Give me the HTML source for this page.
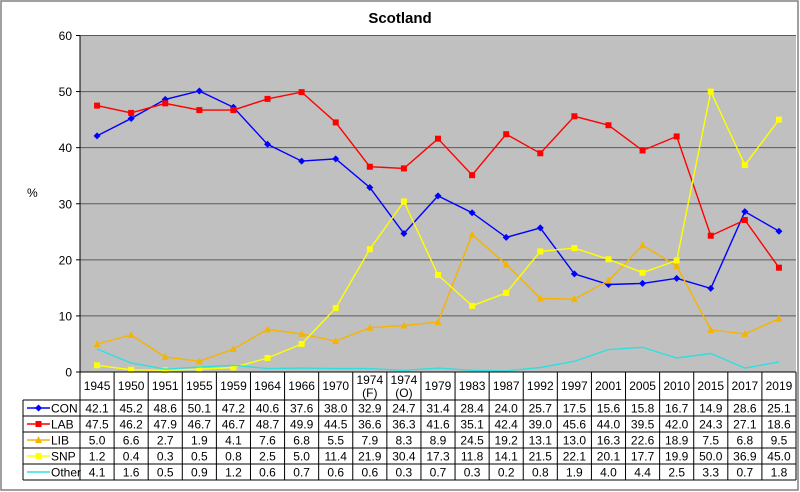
<!DOCTYPE html>
<html><head><meta charset="utf-8"><style>
html,body{margin:0;padding:0;background:#fff;}
svg{display:block;font-family:"Liberation Sans",Arial,sans-serif;}
</style></head><body>
<svg id="c" width="800" height="492" xmlns="http://www.w3.org/2000/svg"></svg>
<script>
const cats=["1945","1950","1951","1955","1959","1964","1966","1970","1974|(F)","1974|(O)","1979","1983","1987","1992","1997","2001","2005","2010","2015","2017","2019"];
const S=[
["CON","#0000ff","d",[42.1,45.2,48.6,50.1,47.2,40.6,37.6,38.0,32.9,24.7,31.4,28.4,24.0,25.7,17.5,15.6,15.8,16.7,14.9,28.6,25.1]],
["LAB","#ff0000","s",[47.5,46.2,47.9,46.7,46.7,48.7,49.9,44.5,36.6,36.3,41.6,35.1,42.4,39.0,45.6,44.0,39.5,42.0,24.3,27.1,18.6]],
["LIB","#f5b400","t",[5.0,6.6,2.7,1.9,4.1,7.6,6.8,5.5,7.9,8.3,8.9,24.5,19.2,13.1,13.0,16.3,22.6,18.9,7.5,6.8,9.5]],
["SNP","#ffff00","s",[1.2,0.4,0.3,0.5,0.8,2.5,5.0,11.4,21.9,30.4,17.3,11.8,14.1,21.5,22.1,20.1,17.7,19.9,50.0,36.9,45.0]],
["Other","#33dddd","n",[4.1,1.6,0.5,0.9,1.2,0.6,0.7,0.6,0.6,0.3,0.7,0.3,0.2,0.8,1.9,4.0,4.4,2.5,3.3,0.7,1.8]]];
const L=80,R=796,T=35.5,B=372,W=(R-L)/21;
const X=i=>L+W*(i+0.5),Y=v=>B-v*(B-T)/60;
let h='';
h+='<rect x="1" y="1" width="797" height="489" fill="#fff" stroke="#808080" stroke-width="1.5"/>';
h+=`<text x="400" y="23" font-size="15" font-weight="bold" text-anchor="middle">Scotland</text>`;
h+=`<rect x="${L}" y="${T}" width="${R-L}" height="${B-T}" fill="#c0c0c0"/>`;
for(let v=0;v<=60;v+=10){const y=Y(v);
 if(v>0)h+=`<line x1="${L}" x2="${R}" y1="${y}" y2="${y}" stroke="#5a5a5a" stroke-width="1"/>`;
 h+=`<line x1="${L-4}" x2="${L}" y1="${y}" y2="${y}" stroke="#000"/>`;
 h+=`<text x="${L-8}" y="${y+4.5}" font-size="12" text-anchor="end">${v}</text>`;}
h+=`<line x1="${L}" x2="${L}" y1="${T}" y2="${B}" stroke="#000"/>`;
h+=`<text x="27" y="197" font-size="12">%</text>`;
for(const [n,c,m,d] of S){
 h+=`<polyline fill="none" stroke="${c}" stroke-width="1.4" points="${d.map((v,i)=>X(i).toFixed(1)+','+Y(v).toFixed(1)).join(' ')}"/>`;
 d.forEach((v,i)=>h+=mk(m,X(i),Y(v),c));}
function mk(m,x,y,c){
 if(m=='d')return `<polygon points="${x},${y-3.5} ${x+3.5},${y} ${x},${y+3.5} ${x-3.5},${y}" fill="${c}"/>`;
 if(m=='s')return `<rect x="${x-3}" y="${y-3}" width="6" height="6" fill="${c}"/>`;
 if(m=='t')return `<polygon points="${x},${y-4} ${x+3.5},${y+3} ${x-3.5},${y+3}" fill="${c}"/>`;
 return '';}
// table
const rows=[400,416,432,448,464,480];
h+=`<g stroke="#000" stroke-width="1" fill="none">`;
h+=`<line x1="${L}" x2="${R}" y1="${B}" y2="${B}"/>`;
rows.forEach(y=>h+=`<line x1="${y==400?23:23}" x2="${R}" y1="${y}" y2="${y}"/>`);
h+=`<line x1="23" x2="23" y1="400" y2="480"/>`;
for(let i=0;i<=21;i++)h+=`<line x1="${L+W*i}" x2="${L+W*i}" y1="${B}" y2="480"/>`;
h+=`</g>`;
cats.forEach((c,i)=>{const p=c.split('|');
 if(p.length==1)h+=`<text x="${X(i)}" y="390" font-size="12" text-anchor="middle">${c}</text>`;
 else h+=`<text x="${X(i)}" y="384" font-size="12" text-anchor="middle">${p[0]}</text><text x="${X(i)}" y="397" font-size="12" text-anchor="middle">${p[1]}</text>`;});
S.forEach(([n,c,m,d],r)=>{const yc=rows[r]+8;
 h+=`<line x1="27" x2="50" y1="${yc}" y2="${yc}" stroke="${c}" stroke-width="1.4"/>`+mk(m,38.5,yc,c);
 h+=`<text x="51" y="${yc+4.5}" font-size="12">${n}</text>`;
 d.forEach((v,i)=>h+=`<text x="${X(i)}" y="${yc+4.5}" font-size="12" text-anchor="middle">${v.toFixed(1)}</text>`);});
document.getElementById('c').innerHTML=h;
</script>
</body></html>
